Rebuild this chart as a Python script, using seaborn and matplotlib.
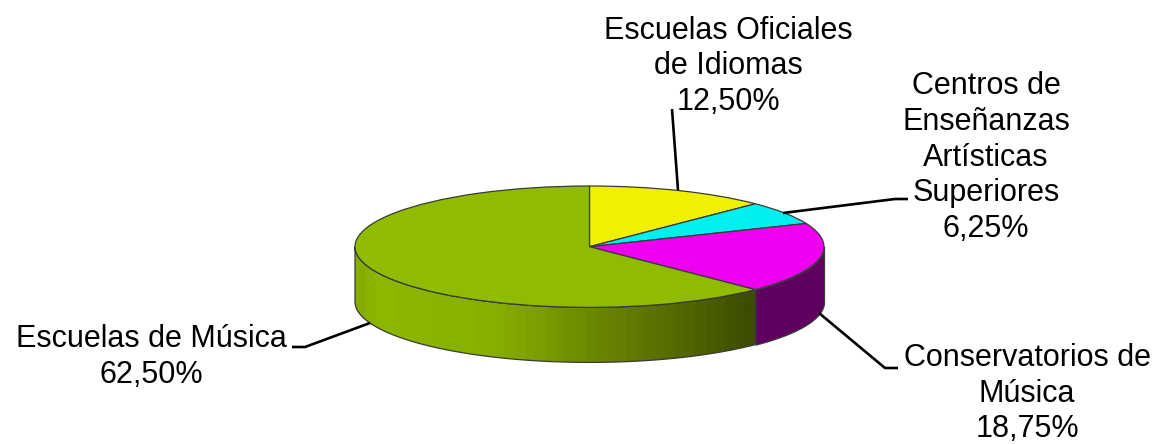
import numpy as np
import seaborn as sns
import matplotlib.pyplot as plt
from matplotlib.colors import LinearSegmentedColormap

# Shares clockwise from the top of the pie
names = ['Escuelas Oficiales\nde Idiomas', 'Centros de\nEnseñanzas\nArtísticas\nSuperiores',
         'Conservatorios de\nMúsica', 'Escuelas de Música']
shares = [12.5, 6.25, 18.75, 62.5]
top_colors = ['#F0F000', '#00F0F0', '#F000F0', '#8FBC00']

sns.set_style("white")
plt.rcParams['font.family'] = ['Liberation Sans', 'DejaVu Sans']

W, H = 1159, 444
cx, cy, rx, ry, depth = 589.5, 246.7, 234.5, 60.7, 55.0
edge = '#3a3a3a'

fig = plt.figure(figsize=(W / 100, H / 100), dpi=100)
ax = fig.add_axes([0, 0, 1, 1])

wedges, _ = ax.pie(shares, colors=top_colors, startangle=90, counterclock=False,
                   wedgeprops=dict(edgecolor=edge, linewidth=0.9, zorder=5))
ax.set_aspect('auto')
d = depth / ry

# side wall, angles come from the shares
ends = np.cumsum(shares) / 100 * 2 * np.pi
th_purple = np.linspace(np.pi / 2, ends[2], 80)
ax.fill_between(np.sin(th_purple), np.cos(th_purple), np.cos(th_purple) - d,
                facecolor='#5F0060', edgecolor=edge, linewidth=0.9, zorder=2)

th_green = np.linspace(ends[2], 1.5 * np.pi, 200)
band = ax.fill_between(np.sin(th_green), np.cos(th_green), np.cos(th_green) - d,
                       facecolor='none', edgecolor=edge, linewidth=0.9, zorder=3)
side_cmap = LinearSegmentedColormap.from_list('side', [
    (0.0, '#86AE00'), (0.05, '#8CB800'), (0.35, '#87AF00'), (0.55, '#708F00'),
    (0.8, '#566C00'), (1.0, '#3C4C00')], N=40)
im = ax.imshow(np.linspace(0, 1, 256)[None, :], cmap=side_cmap, aspect='auto', zorder=2,
               extent=(-1, np.sin(ends[2]), -1 - d, 1))
im.set_clip_path(band.get_paths()[0], transform=ax.transData)
ax.set_aspect('auto')
ax.set_xlim(-cx / rx, (W - cx) / rx)
ax.set_ylim((cy - H) / ry, cy / ry)

# pixel overlay for labels and leader lines
ov = fig.add_axes([0, 0, 1, 1])
ov.set_xlim(0, W)
ov.set_ylim(H, 0)
ov.axis('off')
ov.patch.set_alpha(0)

leaders = [([672, 678], [109, 190]),
           ([783, 895, 908], [213, 199, 199]),
           ([819, 885, 898], [313, 368, 368]),
           ([370, 305, 292], [323, 347, 347])]
label_xy = [(728, 66.5), (986, 157.5), (1027, 393.5), (151, 357)]

for (lx, ly) in leaders:
    ov.plot(lx, ly, color='black', lw=1.9, solid_capstyle='butt', solid_joinstyle='round')

for name, share, (tx, ty) in zip(names, shares, label_xy):
    pct = f'{share:.2f}'.replace('.', ',') + '%'
    ov.text(tx, ty, f'{name}\n{pct}', ha='center', va='center', fontsize=22,
            linespacing=1.25, color='black')

plt.savefig('out.png', dpi=100)
